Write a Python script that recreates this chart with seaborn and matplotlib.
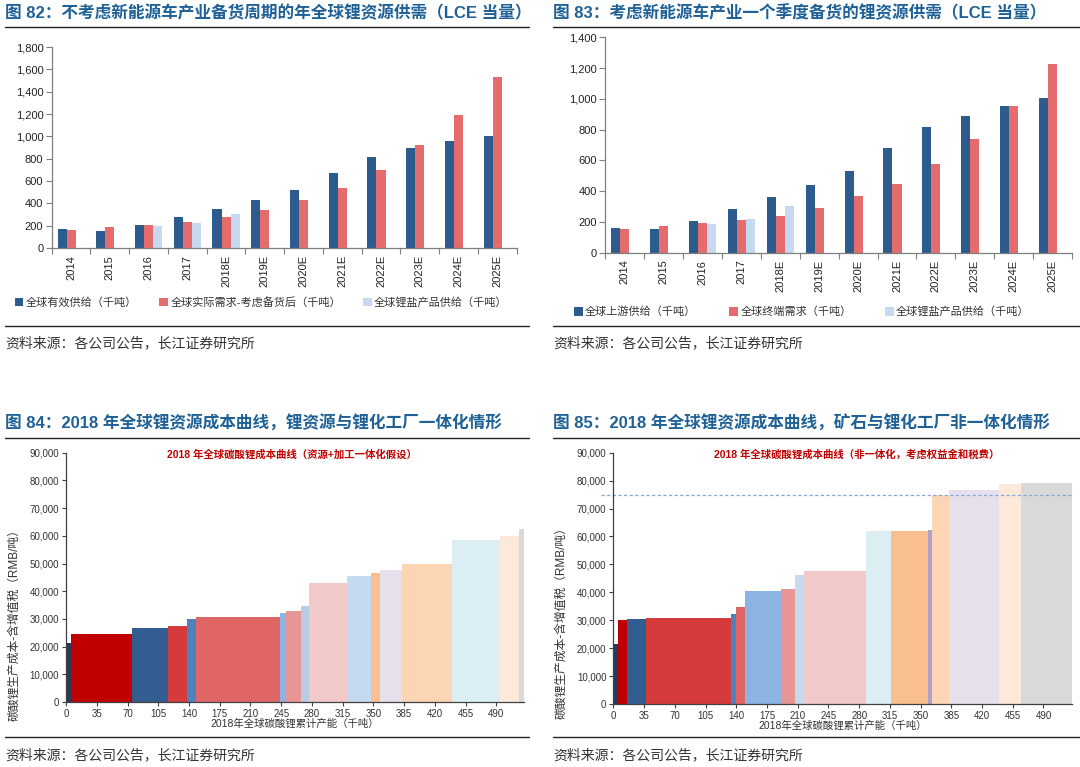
import numpy as np
import pandas as pd
import seaborn as sns
import matplotlib.pyplot as plt
from matplotlib.lines import Line2D
from matplotlib.ticker import FuncFormatter, MultipleLocator, FixedLocator

years = ['2014', '2015', '2016', '2017', '2018E', '2019E', '2020E',
         '2021E', '2022E', '2023E', '2024E', '2025E']

# fig 82
supply_82 = [170, 155, 209, 274, 349, 429, 516, 674, 814, 897, 960, 1005]
demand_82 = [161, 185, 209, 232, 274, 337, 429, 540, 697, 918, 1192, 1532]
salt_82 = [np.nan, np.nan, 194, 224, 304] + [np.nan] * 7
names_82 = ['全球有效供给（千吨）', '全球实际需求-考虑备货后（千吨）', '全球锂盐产品供给（千吨）']

# fig 83
supply_83 = [163, 156, 206, 284, 360, 440, 531, 680, 815, 888, 956, 1005]
demand_83 = [154, 173, 193, 210, 240, 290, 366, 446, 574, 741, 956, 1229]
salt_83 = [np.nan, np.nan, 186, 221, 303] + [np.nan] * 7
names_83 = ['全球上游供给（千吨）', '全球终端需求（千吨）', '全球锂盐产品供给（千吨）']

# fig 84 cost curve (integrated)
widths_84 = [6, 69.5, 40.5, 21.5, 10, 96.5, 6.5, 16.5, 10, 42.5, 27.5, 10, 26, 56, 55, 22, 5]
costs_84 = [21300, 24500, 26800, 27600, 30100, 30700, 32300, 32800, 34500,
            43100, 45500, 46400, 47500, 49900, 58400, 60000, 62300]
colors_84 = ['#283a5c', '#c00000', '#325d90', '#d63b3b', '#4f81bd', '#e06666',
             '#8db3e2', '#e89595', '#b8cce4', '#f2c9c9', '#c5d9f1', '#fabf8f',
             '#e5e0ec', '#fcd5b4', '#daeef3', '#fde9d9', '#d9d9d9']

# fig 85 cost curve (non-integrated)
widths_85 = [5, 10, 22.5, 96.5, 6, 10, 41, 16, 10.5, 70, 29, 42, 4, 20, 56.5, 25.5, 58]
costs_85 = [21500, 30100, 30400, 30700, 32200, 34600, 40600, 41300, 46100,
            47700, 61900, 61900, 62300, 74700, 76600, 78800, 79000]
colors_85 = ['#283a5c', '#c00000', '#325d90', '#d63b3b', '#4f81bd', '#e06666',
             '#8db3e2', '#e89595', '#c5d9f1', '#f2c9c9', '#daeef3', '#fabf8f',
             '#b1a0c7', '#fcd5b4', '#e5e0ec', '#fde9d9', '#d9d9d9']
ref_line_85 = 75000

titles = ['图 82：不考虑新能源车产业备货周期的年全球锂资源供需（LCE 当量）',
          '图 83：考虑新能源车产业一个季度备货的锂资源供需（LCE 当量）',
          '图 84：2018 年全球锂资源成本曲线，锂资源与锂化工厂一体化情形',
          '图 85：2018 年全球锂资源成本曲线，矿石与锂化工厂非一体化情形']
inner_84 = '2018 年全球碳酸锂成本曲线（资源+加工一体化假设）'
inner_85 = '2018 年全球碳酸锂成本曲线（非一体化，考虑权益金和税费）'
xlabel_cost = '2018年全球碳酸锂累计产能（千吨）'
ylabel_cost = '碳酸锂生产成本-含增值税（RMB/吨）'
source = '资料来源：各公司公告，长江证券研究所'

sns.set_theme(style='ticks')
plt.rcParams['font.family'] = ['Liberation Sans', 'Noto Sans CJK SC']
plt.rcParams['axes.unicode_minus'] = False

W, H = 1080, 767
fig = plt.figure(figsize=(W / 100, H / 100), dpi=100)


def fx(px):
    return px / W


def fy(py):
    return 1 - py / H


def add_axes(left, top, right, bottom):
    return fig.add_axes([fx(left), fy(bottom), fx(right - left), (bottom - top) / H])


comma = FuncFormatter(lambda v, p: f'{v:,.0f}')
title_color = '#1f6196'
spine_color = '#7f7f7f'
bar_palette = ['#2e5b8e', '#e46c6c', '#c6d9f1']


def supply_chart(ax, s, d, l, names, ymax, leg_anchor, colsp):
    df = pd.DataFrame({'year': years * 3,
                       'series': [names[0]] * 12 + [names[1]] * 12 + [names[2]] * 12,
                       'value': list(s) + list(d) + list(l)}).dropna()
    sns.barplot(data=df, x='year', y='value', hue='series', hue_order=names,
                order=years, palette=bar_palette, width=0.7, errorbar=None,
                saturation=1, linewidth=0, ax=ax)
    ax.set_xlim(-0.5, 11.5)
    ax.set_ylim(0, ymax)
    ax.yaxis.set_major_locator(MultipleLocator(200))
    ax.yaxis.set_major_formatter(comma)
    ax.set_xlabel('')
    ax.set_ylabel('')
    ax.tick_params(axis='x', which='major', length=0, labelsize=8, rotation=90, pad=5)
    ax.xaxis.set_minor_locator(FixedLocator(np.arange(-0.5, 12, 1)))
    ax.tick_params(axis='x', which='minor', length=4, color=spine_color, width=0.8)
    ax.tick_params(axis='y', length=4, labelsize=8, color=spine_color, width=0.8, pad=2)
    for lab in ax.get_xticklabels() + ax.get_yticklabels():
        lab.set_color('#222222')
    sns.despine(ax=ax)
    for sp in ['left', 'bottom']:
        ax.spines[sp].set_color(spine_color)
        ax.spines[sp].set_linewidth(0.9)
    sns.move_legend(ax, 'center left', bbox_to_anchor=leg_anchor, ncol=3,
                    frameon=False, title=None, fontsize=8, handlelength=0.8,
                    handleheight=0.8, handletextpad=0.2, columnspacing=colsp,
                    borderaxespad=0, borderpad=0)
    for t in ax.get_legend().get_texts():
        t.set_color('#333333')


def cost_chart(ax, widths, costs, colors, xlim, ylab_pos):
    widths = np.array(widths)
    lefts = np.concatenate([[0], np.cumsum(widths)[:-1]])
    ax.bar(lefts, costs, width=widths, align='edge', color=colors, linewidth=0)
    ax.set_xlim(0, xlim)
    ax.set_ylim(0, 90000)
    ax.xaxis.set_major_locator(FixedLocator(np.arange(0, 491, 35)))
    ax.yaxis.set_major_locator(MultipleLocator(10000))
    ax.yaxis.set_major_formatter(comma)
    ax.tick_params(axis='both', length=3, labelsize=7, color='#404040', width=0.8, pad=2)
    for lab in ax.get_xticklabels() + ax.get_yticklabels():
        lab.set_color('#333333')
    sns.despine(ax=ax)
    for sp in ['left', 'bottom']:
        ax.spines[sp].set_color('#404040')
        ax.spines[sp].set_linewidth(0.9)
    ax.set_xlabel(xlabel_cost, fontsize=7.5, color='#333333', labelpad=0)
    ax.set_ylabel(ylabel_cost, fontsize=8.5, color='#333333')
    ax.yaxis.set_label_coords(*ylab_pos)
    return ax


# panel 82
ax82 = add_axes(51.7, 47, 516.6, 248)
supply_chart(ax82, supply_82, demand_82, salt_82, names_82, 1800, (-0.08, -0.27), 2.0)

# panel 83
ax83 = add_axes(605.4, 37.3, 1072, 252.7)
supply_chart(ax83, supply_83, demand_83, salt_83, names_83, 1400, (-0.068, -0.275), 3.0)

# panel 84
ax84 = add_axes(66.1, 452.7, 523.5, 702)
cost_chart(ax84, widths_84, costs_84, colors_84, 521, (-0.1, 0.32))
fig.text(fx(292), fy(454), inner_84, fontsize=7.5, fontweight='bold',
         color='#c00000', ha='center', va='center')

# panel 85
ax85 = add_axes(613.4, 452.7, 1072, 704)
cost_chart(ax85, widths_85, costs_85, colors_85, 522.5, (-0.1, 0.335))
ax85.axhline(ref_line_85, xmin=-0.028, xmax=1.0, color='#7fa7d9', lw=0.9,
             ls=(0, (2.5, 2)), clip_on=False)
fig.text(fx(857), fy(454), inner_85, fontsize=7.5, fontweight='bold',
         color='#c00000', ha='center', va='center')

# titles, rules, sources
for x0, x1, ty, ly, by, sy, t in [(5, 529, 12.5, 26.5, 326, 343, titles[0]),
                                  (553, 1080, 12.5, 26.5, 326, 343, titles[1]),
                                  (5, 529, 423, 438, 737, 755, titles[2]),
                                  (553, 1080, 423, 438, 737, 755, titles[3])]:
    fig.text(fx(x0), fy(ty), t, fontsize=12, fontweight='bold', color=title_color,
             ha='left', va='center')
    fig.add_artist(Line2D([fx(x0), fx(x1)], [fy(ly), fy(ly)], color='#222222', lw=1.0))
    fig.add_artist(Line2D([fx(x0), fx(x1)], [fy(by), fy(by)], color='#222222', lw=1.0))
    fig.text(fx(x0), fy(sy), source, fontsize=10, color='#333333', ha='left', va='center')

fig.savefig('out.png', dpi=100, facecolor='white')
